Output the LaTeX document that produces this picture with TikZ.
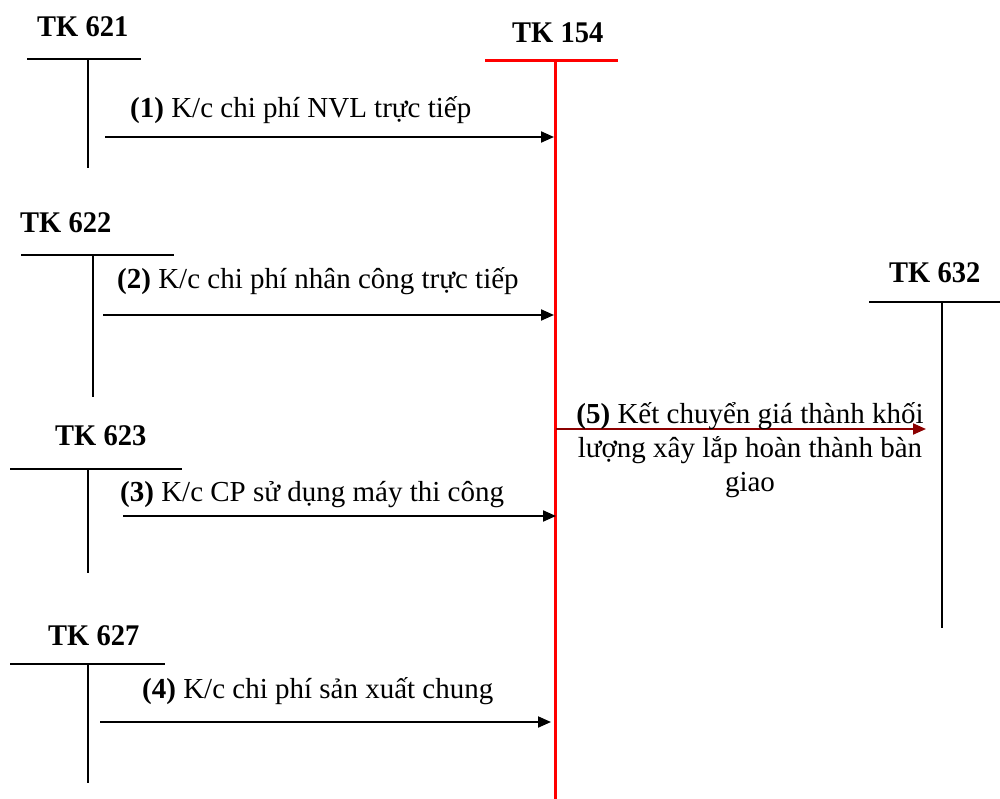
\documentclass[tikz,border=0pt]{standalone}
\usepackage{fontspec}
\setmainfont{Liberation Serif}
\newfontfamily\tkfont[FakeStretch=0.95]{Liberation Serif Bold}
\usetikzlibrary{arrows.meta}
\definecolor{tkred}{RGB}{255,0,0}
\definecolor{darkred}{RGB}{139,0,0}
\tikzset{
  tklabel/.style={anchor=base west, inner sep=0pt, font=\tkfont\fontsize{30}{34}\selectfont},
  lbl/.style={anchor=base west, inner sep=0pt, font=\fontsize{29}{34}\selectfont},
  tline/.style={line width=2pt, black},
  redline/.style={line width=3pt, tkred},
  flow/.style={line width=2pt, black, -{Triangle[length=13pt,width=11pt]}},
  flowred/.style={line width=2pt, darkred, -{Triangle[length=13pt,width=11pt]}}
}
\begin{document}
\begin{tikzpicture}[x=1pt,y=-1pt]
\useasboundingbox (0,0) rectangle (1000,799);
% TK 621
\node[tklabel] (tk621) at (37,37) {TK 621};
\draw[tline] (27,59) -- (141,59);
\draw[tline] (88,59) -- (88,168);
% TK 154
\node[tklabel] (tk154) at (512,43) {TK 154};
\draw[redline] (485,61) -- (618,61);
\draw[redline] (555,61) -- (555,799);
% TK 622
\node[tklabel] (tk622) at (20,233) {TK 622};
\draw[tline] (21,255) -- (174,255);
\draw[tline] (93,255) -- (93,397);
% TK 623
\node[tklabel] (tk623) at (55,445) {TK 623};
\draw[tline] (10,469) -- (182,469);
\draw[tline] (88,469) -- (88,573);
% TK 627
\node[tklabel] (tk627) at (48,645) {TK 627};
\draw[tline] (10,664) -- (165,664);
\draw[tline] (88,664) -- (88,783);
% TK 632
\node[tklabel] (tk632) at (889,283) {TK 632};
\draw[tline] (869,302) -- (1000,302);
\draw[tline] (942,302) -- (942,628);
% arrow coordinates
\coordinate (s1) at (105,137);  \coordinate (e1) at (554,137);
\coordinate (s2) at (103,315);  \coordinate (e2) at (554,315);
\coordinate (s3) at (123,516);  \coordinate (e3) at (556,516);
\coordinate (s4) at (100,722);  \coordinate (e4) at (551,722);
\coordinate (s5) at (556,429);  \coordinate (e5) at (926,429);
\draw[flow] (s1) -- (e1);
\draw[flow] (s2) -- (e2);
\draw[flow] (s3) -- (e3);
\draw[flow] (s4) -- (e4);
\draw[flowred] (s5) -- (e5);
% labels
\node[lbl] (l1) at (130,118) {\textbf{(1)} K/c chi phí NVL trực tiếp};
\node[lbl] (l2) at (117,288) {\textbf{(2)} K/c chi phí nhân công trực tiếp};
\node[lbl] (l3) at (120,501) {\textbf{(3)} K/c CP sử dụng máy thi công};
\node[lbl] (l4) at (142,698) {\textbf{(4)} K/c chi phí sản xuất chung};
\node[inner sep=0pt, align=center, font=\fontsize{29}{34}\selectfont] (l5) at (750,450)
  {\textbf{(5)} Kết chuyển giá thành khối\\lượng xây lắp hoàn thành bàn\\giao};
\end{tikzpicture}
\end{document}
